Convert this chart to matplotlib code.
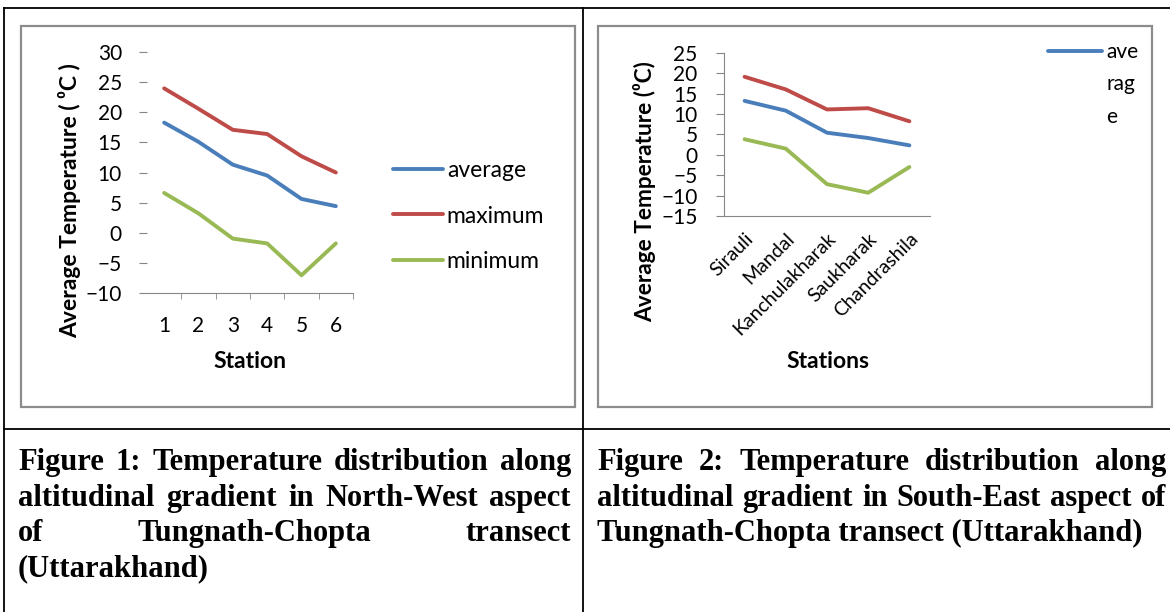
import matplotlib
matplotlib.use("Agg")
import matplotlib.pyplot as plt
from matplotlib.patches import Rectangle
from matplotlib.lines import Line2D
from matplotlib.ticker import FixedLocator

# figure 1, north-west aspect
nw_stations = [1, 2, 3, 4, 5, 6]
nw_avg = [18.3, 15.1, 11.3, 9.5, 5.6, 4.4]
nw_max = [24.0, 20.6, 17.1, 16.4, 12.7, 10.0]
nw_min = [6.6, 3.2, -1.0, -1.8, -7.1, -1.8]

# figure 2, south-east aspect
se_stations = ["Sirauli", "Mandal", "Kanchulakharak", "Saukharak", "Chandrashila"]
se_avg = [13.2, 10.8, 5.4, 4.1, 2.3]
se_max = [19.1, 16.0, 11.1, 11.4, 8.2]
se_min = [3.8, 1.5, -7.2, -9.3, -3.0]

series_names = ["average", "maximum", "minimum"]
series_colors = ["#4a7ebb", "#be4b48", "#98b954"]
# the second chart's legend only shows "average", wrapped in a narrow box
se_legend_lines = ["ave", "rag", "e"]

caption1 = ["Figure 1: Temperature distribution along",
            "altitudinal gradient in North-West aspect",
            "of Tungnath-Chopta transect",
            "(Uttarakhand)"]
caption2 = ["Figure 2: Temperature distribution along",
            "altitudinal gradient in South-East aspect of",
            "Tungnath-Chopta transect (Uttarakhand)"]

W, H = 1170, 612
SANS = ["Lato", "DejaVu Sans"]
GRAY = "#868686"

fig = plt.figure(figsize=(W / 100, H / 100), dpi=100)
fig.patch.set_facecolor("white")


def fx(px):
    return px / W


def fy(py):
    return 1 - py / H


def box(x0, y0, x1, y1):
    # axes rectangle from pixel corners (top-left, bottom-right)
    return [fx(x0), fy(y1), fx(x1) - fx(x0), fy(y0) - fy(y1)]


# table grid and chart frames
for (xa, ya, xb, yb) in [(4, 8, W, 8), (4, 8, 4, H), (583, 8, 583, H), (4, 429, W, 429)]:
    fig.add_artist(Line2D([fx(xa), fx(xb)], [fy(ya), fy(yb)], color="black", lw=1.3,
                          transform=fig.transFigure))
for (xa, ya, xb, yb) in [(21, 26, 575, 407), (598, 26, 1152, 407)]:
    fig.add_artist(Rectangle((fx(xa), fy(yb)), fx(xb) - fx(xa), fy(ya) - fy(yb), fill=False,
                             edgecolor="#8c8c8c", lw=1.6, transform=fig.transFigure))

# ---- left chart ----
ax1 = fig.add_axes(box(147, 52.3, 353, 292.7))
lines1 = []
for vals, name, col in zip([nw_avg, nw_max, nw_min], series_names, series_colors):
    ln, = ax1.plot(nw_stations, vals, color=col, lw=2.8, solid_capstyle="round", label=name)
    lines1.append(ln)
ax1.set_xlim(0.5, 6.5)
ax1.set_ylim(-10, 30)
ax1.set_yticks(range(-10, 31, 5))
ax1.set_xticks(nw_stations)
ax1.xaxis.set_minor_locator(FixedLocator([1.5, 2.5, 3.5, 4.5, 5.5, 6.5]))
for s in ["left", "top", "right"]:
    ax1.spines[s].set_visible(False)
ax1.spines["bottom"].set_color(GRAY)
ax1.tick_params(axis="y", length=6, color=GRAY, pad=12, labelsize=15)
ax1.tick_params(axis="x", which="major", length=0, pad=17, labelsize=15)
ax1.tick_params(axis="x", which="minor", length=4, color=GRAY, direction="out")
for t in ax1.get_xticklabels() + ax1.get_yticklabels():
    t.set_family(SANS)
ax1.set_ylabel("Average Temperature ( \u2070C )", fontsize=16.5, fontweight="bold", family=SANS, va="center")
ax1.yaxis.set_label_coords(fx(70), fy(201), transform=fig.transFigure)
ax1.set_xlabel("Station", fontsize=16.5, fontweight="bold", family=SANS, va="center")
ax1.xaxis.set_label_coords(fx(250), fy(362), transform=fig.transFigure)
ax1.legend(handles=lines1, loc="center left", bbox_to_anchor=(fx(393), fy(216)),
           bbox_transform=fig.transFigure, frameon=False, borderpad=0, borderaxespad=0,
           handlelength=2.2, handletextpad=0.15, labelspacing=1.05,
           prop={"family": SANS, "size": 16.5})

# ---- right chart ----
ax2 = fig.add_axes(box(724, 52.7, 930, 216))
pos = list(range(len(se_stations)))
lines2 = []
for vals, col in zip([se_avg, se_max, se_min], series_colors):
    ln, = ax2.plot(pos, vals, color=col, lw=2.8, solid_capstyle="round")
    lines2.append(ln)
ax2.set_xlim(-0.5, len(se_stations) - 0.5)
ax2.set_ylim(-15, 25)
ax2.set_yticks(range(-15, 26, 5))
ax2.set_xticks(pos)
ax2.set_xticklabels(se_stations, rotation=45, ha="right", va="top", rotation_mode="anchor",
                    fontsize=14, family=SANS)
for s in ["top", "right"]:
    ax2.spines[s].set_visible(False)
ax2.spines["left"].set_color(GRAY)
ax2.spines["bottom"].set_color(GRAY)
ax2.tick_params(axis="y", length=6, color=GRAY, pad=13, labelsize=15)
ax2.tick_params(axis="x", length=0, pad=10)
for t in ax2.get_yticklabels():
    t.set_family(SANS)
ax2.set_ylabel("Average Temperature (\u2070C)", fontsize=16.3, fontweight="bold", family=SANS, va="center")
ax2.yaxis.set_label_coords(fx(645), fy(192), transform=fig.transFigure)
ax2.set_xlabel("Stations", fontsize=16.5, fontweight="bold", family=SANS, va="center")
ax2.xaxis.set_label_coords(fx(828), fy(362), transform=fig.transFigure)
# wrapped legend: handle on the first row only
blank = [Line2D([], [], alpha=0) for _ in se_legend_lines[1:]]
ax2.legend([lines2[0]] + blank, se_legend_lines, loc="upper left", bbox_to_anchor=(fx(1048), fy(42)),
           bbox_transform=fig.transFigure, frameon=False, borderpad=0, borderaxespad=0,
           handlelength=2.6, handletextpad=0.2, labelspacing=0.6, prop={"family": SANS, "size": 15})

# ---- captions (justified like the word processor) ----
renderer = fig.canvas.get_renderer()
CAP = dict(family="Liberation Serif", fontweight="bold", fontsize=22)


def justify_line(line, x0, x1, y, stretch=True):
    words = line.split()
    if not stretch or len(words) == 1:
        fig.text(fx(x0), fy(y), line, va="baseline", ha="left", **CAP)
        return
    widths = []
    for w in words:
        t = fig.text(0, 0, w, **CAP)
        widths.append(t.get_window_extent(renderer).width)
        t.remove()
    gap = (x1 - x0 - sum(widths)) / (len(words) - 1)
    x = x0
    for w, wd in zip(words, widths):
        fig.text(fx(x), fy(y), w, va="baseline", ha="left", **CAP)
        x += wd + gap


baselines = [470, 506, 541, 576]
for i, line in enumerate(caption1):
    justify_line(line, 18, 571, baselines[i], stretch=i < len(caption1) - 1)
for i, line in enumerate(caption2):
    justify_line(line, 597, 1166, baselines[i], stretch=i < len(caption2) - 1)

fig.savefig("out.png", dpi=100)
